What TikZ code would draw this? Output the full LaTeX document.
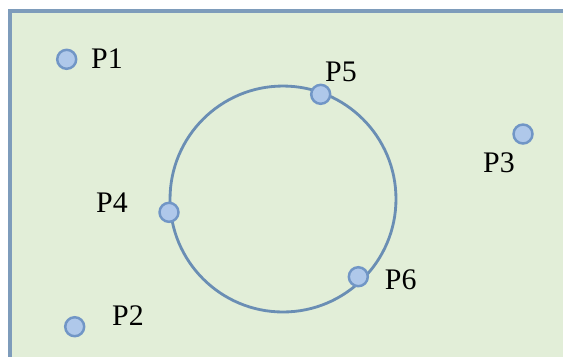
\documentclass[tikz,border=0pt]{standalone}
\usepackage{fontspec}
\setmainfont{Liberation Serif}
\usepackage{tikz}
\usetikzlibrary{positioning}
\usepackage{xcolor}
\definecolor{paper}{HTML}{E2EED8}
\definecolor{frame}{HTML}{7E9CBB}
\definecolor{ring}{HTML}{6A8EB4}
\definecolor{dotfill}{HTML}{AFC8EA}
\definecolor{dotedge}{HTML}{7196C6}

\begin{document}
\begin{tikzpicture}[x=0.02cm, y=-0.02cm, font=\fontsize{17}{20}\selectfont,
    pt/.style={circle, fill=dotfill, draw=dotedge, line width=1.4pt, minimum size=0.38cm, inner sep=0pt},
    lbl/.style={inner sep=0pt, text=black}]
    \useasboundingbox (0,0) rectangle (563,356);
    \clip (0,0) rectangle (563,356);
    \fill[white] (0,0) rectangle (563,356);
    \draw[frame, fill=paper, line width=1.8pt] (10,11) rectangle (580,375);
    \draw[ring, line width=1.6pt] (283,199) circle[radius=2.26cm];
    % points
    \node[pt] (p1) at (66.7,59.3) {};
    \node[pt] (p2) at (74.7,326.7) {};
    \node[pt] (p3) at (523,134) {};
    \node[pt] (p4) at (169,212.3) {};
    \node[pt] (p5) at (320.7,94.3) {};
    \node[pt] (p6) at (358.3,276.7) {};
    % labels
    \node[lbl] (l1) at (107,59) {P1};
    \node[lbl] (l2) at (128,316) {P2};
    \node[lbl] (l3) at (499,162.5) {P3};
    \node[lbl] (l4) at (112,202.5) {P4};
    \node[lbl] (l5) at (341,72) {P5};
    \node[lbl] (l6) at (400.7,279.5) {P6};
\end{tikzpicture}
\end{document}
